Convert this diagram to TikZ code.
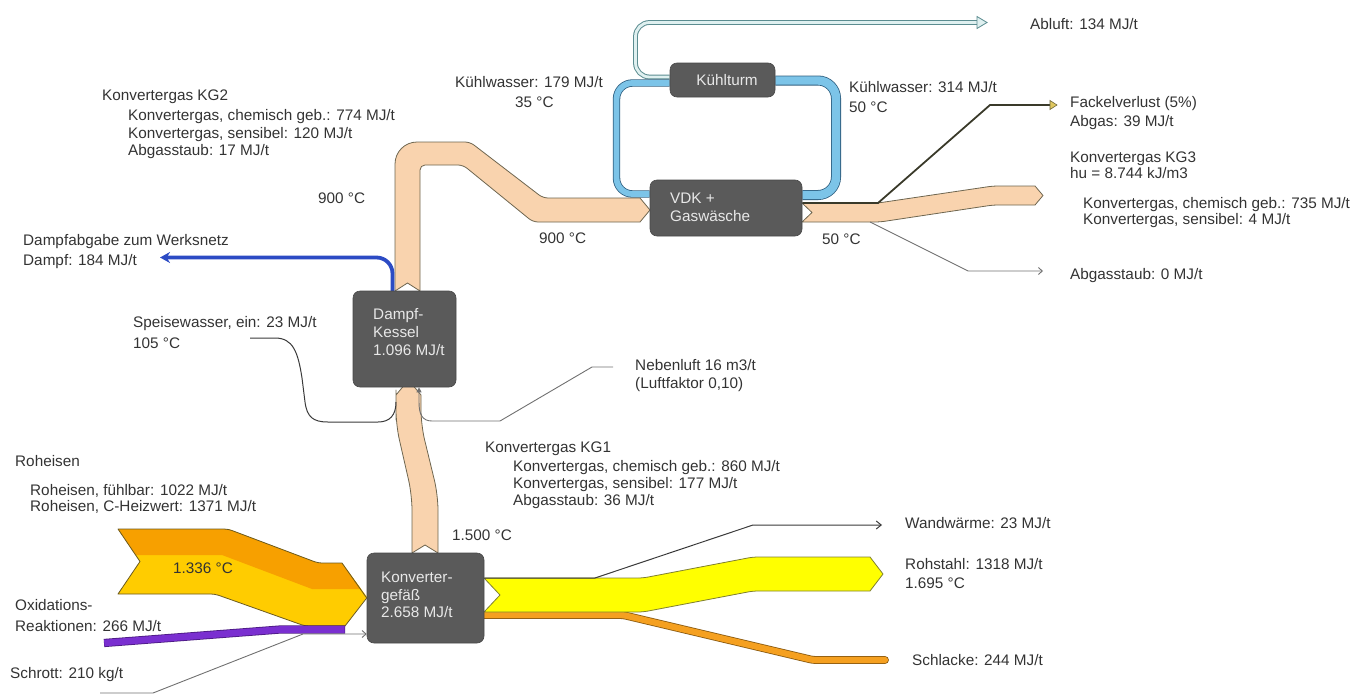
\documentclass[tikz,border=0pt]{standalone}
\usepackage{fontspec}
\setmainfont{Liberation Sans}
\usetikzlibrary{arrows.meta}
\pgfdeclarelayer{bg}
\pgfsetlayers{bg,main}
\definecolor{peach}{HTML}{F9D3AE}
\definecolor{peachline}{HTML}{6E6650}
\definecolor{boxgray}{HTML}{5A5A5A}
\definecolor{kwblue}{HTML}{7CC4E8}
\definecolor{kwline}{HTML}{2F5F80}
\definecolor{abllight}{HTML}{DFF0F0}
\definecolor{ablline}{HTML}{5B8C90}
\definecolor{dampfblue}{HTML}{2C4BC4}
\definecolor{rhorange}{HTML}{F7A000}
\definecolor{rhyellow}{HTML}{FFCC00}
\definecolor{rhline}{HTML}{6B5A20}
\definecolor{oxpurple}{HTML}{7A2FD0}
\definecolor{oxline}{HTML}{4A1A80}
\definecolor{rsyellow}{HTML}{FFFF00}
\definecolor{rsline}{HTML}{7F7F30}
\definecolor{slorange}{HTML}{F5A020}
\definecolor{slline}{HTML}{8A5A10}
\definecolor{txt}{HTML}{333333}
\definecolor{boxtxt}{HTML}{E8E8E8}
\definecolor{fackeltip}{HTML}{E0C860}
\definecolor{fackelline}{HTML}{3A3A2A}
\definecolor{thinline}{HTML}{3A3A3A}
\definecolor{grayline}{HTML}{707070}
\newcommand{\tlab}[4]{\node[lab] (#1) at (#2,#3+5) {#4};}
\newcommand{\blab}[4]{\node[blab] (#1) at (#2,#3+5) {#4};}
\begin{document}
\begin{tikzpicture}[x=1pt,y=-1pt,
  box/.style={fill=boxgray, draw=boxgray!80!black, rounded corners=7pt, line width=0.6pt, inner sep=0pt},
  lab/.style={font=\fontsize{15.3}{17}\selectfont, text=txt, inner sep=0pt, anchor=base west},
  blab/.style={lab, text=boxtxt},
  peachband/.style={fill=peach, draw=peachline, line width=0.8pt, line join=round},
  thin/.style={draw=thinline, line width=1pt},
  graythin/.style={draw=grayline, line width=0.9pt}]
\useasboundingbox (0,0) rectangle (1356,696);

% boxes
\node[box, minimum width=105pt, minimum height=34pt] (kt) at (722.5,80) {};
\node[box, minimum width=152pt, minimum height=56pt] (vdk) at (726,208) {};
\node[box, minimum width=103pt, minimum height=96pt] (dk) at (404.5,339) {};
\node[box, minimum width=117pt, minimum height=90pt] (kv) at (425.5,598) {};

\begin{pgfonlayer}{bg}
% Abluft
\draw[ablline, line width=4.8pt, rounded corners=14pt] (kt.west |- 0,77) -- (635.5,77) -- (635.5,22.5) -- (978,22.5);
\draw[abllight, line width=2.8pt, rounded corners=14pt] (kt.west |- 0,77) -- (635.5,77) -- (635.5,22.5) -- (978,22.5);
\coordinate (abluftend) at (987,22.5);
\filldraw[fill=abllight, draw=ablline, line width=0.8pt] (977,16.5) -- (abluftend) -- (977,28.5) -- cycle;

% Kuehlwasser loops
\draw[kwline, line width=7.4pt, rounded corners=16pt] (kt.west |- 0,83) -- (616.5,83) -- (616.5,194) -- (vdk.west |- 0,194);
\draw[kwblue, line width=5.8pt, rounded corners=16pt] (kt.west |- 0,83) -- (616.5,83) -- (616.5,194) -- (vdk.west |- 0,194);
\draw[kwline, line width=10pt, rounded corners=18pt] (kt.east |- 0,80.5) -- (836,80.5) -- (836,195) -- (vdk.east |- 0,195);
\draw[kwblue, line width=8.4pt, rounded corners=18pt] (kt.east |- 0,80.5) -- (836,80.5) -- (836,195) -- (vdk.east |- 0,195);

% KG2
\filldraw[peachband] (395,250) [rounded corners=22pt] -- (395,142) -- (440,142) [rounded corners=5pt] -- (470,142) -- (543,198) -- (620,198) [sharp corners] -- (640,198) -- (650,210) -- (640,222) -- (620,222) [rounded corners=5pt] -- (533,222) -- (463,165) -- (420,165) -- (420,250) [sharp corners] -- (420,291) -- (407.5,283) -- (395,291) -- cycle;

% KG1
\filldraw[peachband] (412,530) [rounded corners=15pt] -- (412,495) -- (396,425) -- (396,405) [sharp corners] -- (396,395) -- (408.5,380) -- (421,395) -- (421,405) [rounded corners=15pt] -- (421,425) -- (438,495) -- (438,530) [sharp corners] -- (438,553) -- (425,545) -- (412,553) -- cycle;

% KG3
\filldraw[peachband] (802,203) -- (860,203) [rounded corners=5pt] -- (878,203) -- (993,186) -- (1020,186) [sharp corners] -- (1035,186) -- (1043,195.5) -- (1035,205) -- (1020,205) [rounded corners=5pt] -- (993,205) -- (880,222) -- (860,222) [sharp corners] -- (802,222) -- (812,212.5) -- cycle;

% Fackelverlust
\draw[fackelline, line width=1.8pt, shorten >=6pt] (vdk.east |- 0,203) -- (878,203) -- (990,105) -- (1056,105);
\coordinate (fackelend) at (1057,105);
\filldraw[fill=fackeltip, draw=fackelline!70!fackeltip, line width=0.6pt] (1050,100.5) -- (fackelend) -- (1050,109.5) -- cycle;
% Abgasstaub
\draw[graythin, -{Straight Barb[length=4pt,width=7pt]}] (870,222) -- (968,271) -- (1043,271);

% Dampf
\draw[dampfblue, line width=3.8pt, rounded corners=16pt, -{Stealth[length=10pt,width=11pt]}] (392.5,300) -- (392.5,257.5) -- (160,257.5);

% Speisewasser
\coordinate (speise) at (250,338);
\draw[thin] (speise) -- (275,338) .. controls (293,338) and (298,352) .. (302,378) -- (305,402) .. controls (307,417) and (313,422) .. (328,422) -- (378,422) .. controls (390,422) and (396,415) .. (396,402);

% Nebenluft
\coordinate (neben) at (613,367);
\draw[graythin, -{Triangle[length=5pt,width=5pt]}] (neben) -- (592,367) -- (500,421) -- (432,421) .. controls (422,421) and (419,414) .. (419,402) -- (dk.south -| 419,0);

% Roheisen
\fill[rhyellow] (118,529) -- (228,529) -- (318,563) -- (342,563) -- (367,597) -- (345,626) -- (305,626) -- (215,594) -- (118,594) -- (140,561.5) -- cycle;
\fill[rhorange] (118,529) -- (228,529) -- (318,563) -- (342,563) -- (361,589) -- (312,589) -- (222,555) -- (135.5,555) -- cycle;
\draw[rhline, line width=0.8pt, line join=round] (118,529) -- (200,529) [rounded corners=4pt] -- (228,529) -- (318,563) -- (330,563) [sharp corners] -- (342,563) -- (kv.west) -- (345,626) -- (330,626) [rounded corners=4pt] -- (305,626) -- (215,594) -- (190,594) [sharp corners] -- (118,594) -- (140,561.5) -- cycle;

% Oxidation
\draw[oxline, line width=8.2pt] (104,643) -- (280,629.5) -- (345,629.5);
\draw[oxpurple, line width=6.6pt] (104.3,643) -- (280,629.5) -- (344.6,629.5);

% Schrott
\coordinate (schrott) at (100,693);
\draw[graythin, -{Straight Barb[length=4pt,width=7pt]}] (schrott) -- (153,693) -- (303,634) -- (kv.west |- 0,634);

% Schlacke
\draw[slline, line width=7.8pt, rounded corners=3pt, line cap=round] (kv.east |- 0,615) -- (623,615) -- (813,660) -- (885,660);
\draw[slorange, line width=6.2pt, rounded corners=3pt, line cap=round] (kv.east |- 0,615) -- (623,615) -- (813,660) -- (885,660);

% Rohstahl
\filldraw[fill=rsyellow, draw=rsline, line width=0.8pt, line join=round] (484,578) -- (620,578) [rounded corners=5pt] -- (643,578) -- (753,557) -- (850,557) [sharp corners] -- (870,557) -- (883,574) -- (870,591) -- (850,591) [rounded corners=5pt] -- (753,591) -- (643,612) -- (620,612) [sharp corners] -- (484,612) -- (500,595) -- cycle;

% Wandwaerme
\draw[thin, -{Straight Barb[length=5pt,width=8pt]}] (kv.east |- 0,578) -- (595,578) -- (753,525) -- (882,525);
\end{pgfonlayer}

% box texts
\node[blab, anchor=base] (kt1) at (727,85) {Kühlturm};
\blab{vdk1}{670}{198}{VDK +}
\blab{vdk2}{670}{216}{Gaswäsche}
\blab{dk1}{373}{314}{Dampf-}
\blab{dk2}{373}{332}{Kessel}
\blab{dk3}{373}{350}{1.096 MJ/t}
\blab{kv1}{381}{577}{Konverter-}
\blab{kv2}{381}{595}{gefäß}
\blab{kv3}{381}{612}{2.658 MJ/t}

% labels
\tlab{kg2a}{102}{95}{Konvertergas KG2}
\tlab{kg2b}{128}{115}{Konvertergas, chemisch geb.: 774 MJ/t}
\tlab{kg2c}{128}{133}{Konvertergas, sensibel: 120 MJ/t}
\tlab{kg2d}{128}{150}{Abgasstaub: 17 MJ/t}
\tlab{t900a}{318}{198}{900 °C}
\tlab{dampfa}{23}{240}{Dampfabgabe zum Werksnetz}
\tlab{dampfb}{23}{260}{Dampf: 184 MJ/t}
\tlab{kw1a}{455}{82}{Kühlwasser: 179 MJ/t}
\tlab{kw1b}{515}{102}{35 °C}
\tlab{kw2a}{849}{87}{Kühlwasser: 314 MJ/t}
\tlab{kw2b}{849}{107}{50 °C}
\tlab{abluft}{1030}{24}{Abluft: 134 MJ/t}
\tlab{fack1}{1070}{102}{Fackelverlust (5\%)}
\tlab{fack2}{1070}{121}{Abgas: 39 MJ/t}
\tlab{kg3a}{1070}{157}{Konvertergas KG3}
\tlab{kg3b}{1070}{173}{hu = 8.744 kJ/m3}
\tlab{kg3c}{1083}{203}{Konvertergas, chemisch geb.: 735 MJ/t}
\tlab{kg3d}{1083}{219}{Konvertergas, sensibel: 4 MJ/t}
\tlab{staub0}{1070}{274}{Abgasstaub: 0 MJ/t}
\tlab{t900b}{539}{238}{900 °C}
\tlab{t50}{822}{239}{50 °C}
\tlab{speisea}{133}{322}{Speisewasser, ein: 23 MJ/t}
\tlab{speiseb}{133}{343}{105 °C}
\tlab{nebena}{635}{365}{Nebenluft 16 m3/t}
\tlab{nebenb}{635}{383}{(Luftfaktor 0,10)}
\tlab{kg1a}{485}{447}{Konvertergas KG1}
\tlab{kg1b}{513}{466}{Konvertergas, chemisch geb.: 860 MJ/t}
\tlab{kg1c}{513}{483}{Konvertergas, sensibel: 177 MJ/t}
\tlab{kg1d}{513}{500}{Abgasstaub: 36 MJ/t}
\tlab{t1500}{452}{535}{1.500 °C}
\tlab{rha}{15}{461}{Roheisen}
\tlab{rhb}{30}{490}{Roheisen, fühlbar: 1022 MJ/t}
\tlab{rhc}{30}{506}{Roheisen, C-Heizwert: 1371 MJ/t}
\tlab{t1336}{173}{568}{1.336 °C}
\tlab{oxa}{15}{605}{Oxidations-}
\tlab{oxb}{15}{626}{Reaktionen: 266 MJ/t}
\tlab{schr}{10}{673}{Schrott: 210 kg/t}
\tlab{wand}{905}{523}{Wandwärme: 23 MJ/t}
\tlab{rsa}{905}{564}{Rohstahl: 1318 MJ/t}
\tlab{rsb}{905}{583}{1.695 °C}
\tlab{schl}{912}{660}{Schlacke: 244 MJ/t}
\end{tikzpicture}
\end{document}
